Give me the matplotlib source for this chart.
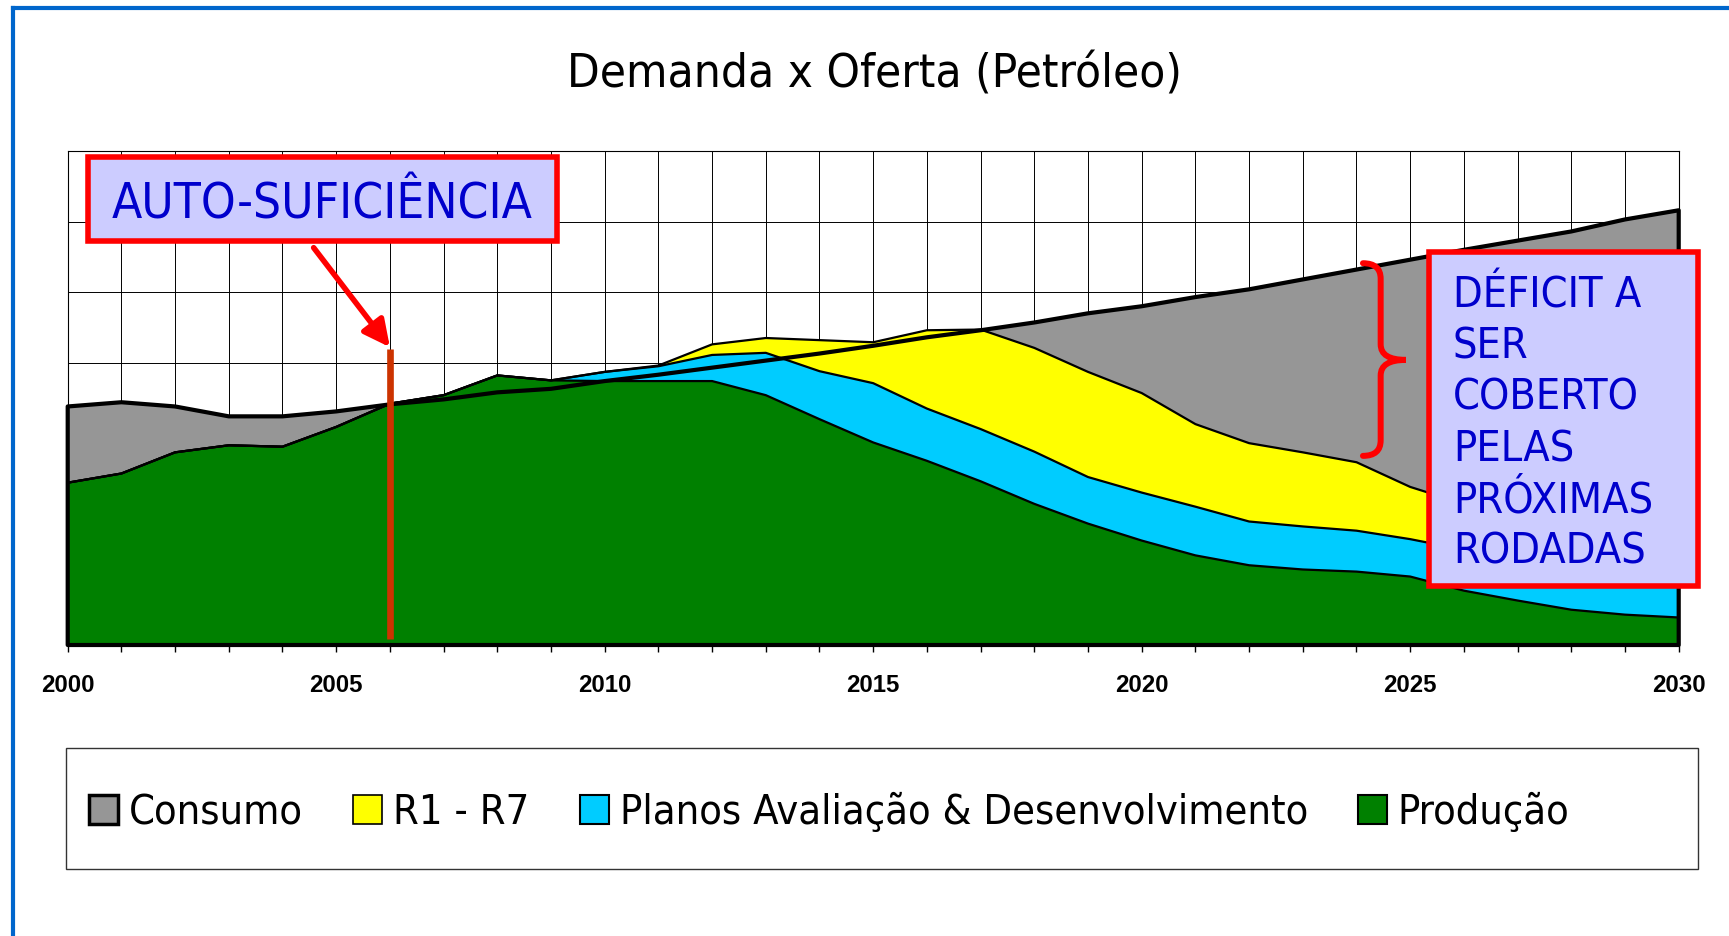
import numpy as np
import matplotlib
matplotlib.use("Agg")
import matplotlib.pyplot as plt
from matplotlib import font_manager
from matplotlib.patches import Patch, Rectangle, PathPatch
from matplotlib.path import Path
from matplotlib.lines import Line2D

# valores (unidades da grade, 0..7)
years = np.arange(2000, 2031)
consumo = [3.38, 3.44, 3.38, 3.24, 3.24, 3.31, 3.41, 3.48, 3.58, 3.63, 3.74,
           3.83, 3.93, 4.03, 4.13, 4.24, 4.36, 4.46, 4.57, 4.70, 4.80,
           4.93, 5.04, 5.18, 5.32, 5.46, 5.60, 5.73, 5.86, 6.03, 6.16]
producao = [2.30, 2.43, 2.73, 2.83, 2.81, 3.09, 3.42, 3.54, 3.82, 3.75, 3.74,
            3.74, 3.74, 3.54, 3.20, 2.87, 2.61, 2.32, 2.00, 1.72, 1.48,
            1.27, 1.13, 1.07, 1.04, 0.97, 0.77, 0.63, 0.50, 0.43, 0.39]
# topo acumulado producao + planos
planos_topo = [2.30, 2.43, 2.73, 2.83, 2.81, 3.09, 3.42, 3.54, 3.82, 3.75, 3.87,
               3.95, 4.11, 4.14, 3.88, 3.71, 3.35, 3.06, 2.74, 2.38, 2.16,
               1.96, 1.75, 1.68, 1.62, 1.50, 1.35, 1.22, 1.10, 1.00, 0.92]
# topo acumulado producao + planos + R1-R7
rodadas_topo = [2.30, 2.43, 2.73, 2.83, 2.81, 3.09, 3.42, 3.54, 3.82, 3.75, 3.87,
                3.96, 4.26, 4.35, 4.32, 4.29, 4.46, 4.47, 4.21, 3.87, 3.57,
                3.13, 2.86, 2.73, 2.59, 2.24, 2.00, 1.80, 1.60, 1.40, 1.20]

labels = ["Consumo", "R1 - R7", "Planos Avaliação & Desenvolvimento", "Produção"]
colors = ["#969696", "#ffff00", "#00ccff", "#008000"]
deficit_lines = ["DÉFICIT A", "SER", "COBERTO", "PELAS", "PRÓXIMAS", "RODADAS"]


def pick_family():
    for name in ["DejaVu Sans Condensed", "Liberation Sans Narrow", "Arial Narrow"]:
        try:
            font_manager.findfont(font_manager.FontProperties(family=name),
                                  fallback_to_default=False)
            return name
        except ValueError:
            pass
    return "DejaVu Sans"


W, H = 1729, 936
fig = plt.figure(figsize=(W / 100, H / 100), dpi=100)
fam = pick_family()
font = dict(family=[fam, "DejaVu Sans"], stretch="condensed")
renderer = fig.canvas.get_renderer()


def fit_size(s, width, **kw):
    t = fig.text(0, 0, s, fontsize=20, **kw)
    w = t.get_window_extent(renderer).width
    t.remove()
    return 20 * width / w


ax = fig.add_axes([67.7 / W, 1 - 645 / H, 1611 / W, 494 / H])

# areas
ax.fill_between(years, 0, consumo, facecolor=colors[0], lw=0, zorder=1)
ax.fill_between(years, 0, producao, facecolor=colors[3], lw=0, zorder=2)
ax.fill_between(years, producao, planos_topo, facecolor=colors[2], lw=0, zorder=2)
ax.fill_between(years, planos_topo, rodadas_topo, facecolor=colors[1], lw=0, zorder=2)
for top in (rodadas_topo, planos_topo, producao):
    ax.plot(years, top, color="black", lw=1.6, zorder=3)
ax.fill_between(years, 0, consumo, facecolor="none", edgecolor="black",
                lw=3.0, zorder=4, clip_on=False)

ax.set_xlim(2000, 2030)
ax.set_ylim(0, 7)
ax.set_xticks(years)
ax.set_xticklabels([str(y) if y % 5 == 0 else "" for y in years])
ax.set_yticks(range(8))
ax.set_yticklabels([])
ax.grid(True, color="black", lw=0.7, zorder=0)
ax.set_axisbelow(True)
ax.tick_params(axis="y", length=0)
fs_tick = fit_size("2000", 53.5, family="Liberation Sans", weight="bold")
ax.tick_params(axis="x", direction="out", length=4.8, width=1, pad=16,
               labelsize=fs_tick)
for lab in ax.get_xticklabels():
    lab.set_fontfamily("Liberation Sans")
    lab.set_fontweight("bold")
for sp in ax.spines.values():
    sp.set_linewidth(0.8)

# auto-suficiencia
ax.plot([2006, 2006], [0.08, 4.20], color="#cc3300", lw=4.8, zorder=5,
        solid_capstyle="butt")
ax.annotate("", xy=(2006.0, 4.22), xytext=(2004.58, 5.63),
            arrowprops=dict(arrowstyle="-|>", color="red", lw=4,
                            mutation_scale=40, shrinkA=0, shrinkB=0),
            zorder=6)
ax.add_patch(Rectangle((0.0124, 0.8172), 0.3039 - 0.0124, 0.9885 - 0.8172,
                       transform=ax.transAxes, facecolor="#ccccff",
                       edgecolor="red", lw=4, zorder=7, clip_on=False))
fs_auto = fit_size("AUTO-SUFICIÊNCIA", 421, **font)
ax.text(0.158, 0.8638, "AUTO-SUFICIÊNCIA", transform=ax.transAxes,
        ha="center", va="baseline", color="#0000cc", fontsize=fs_auto,
        zorder=8, **font)

# chave do deficit
x0, x1, x2 = 2024.12, 2024.45, 2024.92
yt, ym, yb, d = 5.41, 4.04, 2.68, 0.22
verts = [(x0, yt), (x1, yt), (x1, yt - d), (x1, ym + d), (x1, ym), (x2, ym),
         (x1, ym), (x1, ym - d), (x1, yb + d), (x1, yb), (x0, yb)]
codes = [Path.MOVETO, Path.CURVE3, Path.CURVE3, Path.LINETO, Path.CURVE3,
         Path.CURVE3, Path.CURVE3, Path.CURVE3, Path.LINETO, Path.CURVE3,
         Path.CURVE3]
ax.add_patch(PathPatch(Path(verts, codes), facecolor="none", edgecolor="red",
                       lw=4.3, capstyle="round", zorder=6))

ax.add_patch(Rectangle((0.8453, 0.1188), 1.0118 - 0.8453, 0.7949 - 0.1188,
                       transform=ax.transAxes, facecolor="#ccccff",
                       edgecolor="red", lw=4, zorder=7, clip_on=False))
fs_def = fit_size("PRÓXIMAS", 200.5, **font)
for i, line in enumerate(deficit_lines):
    ax.text(0.8598, 0.6826 - i * 0.1034, line, transform=ax.transAxes,
            ha="left", va="baseline", color="#0000cc", fontsize=fs_def,
            zorder=8, clip_on=False, **font)

# titulo
fs_title = fit_size("Demanda x Oferta (Petróleo)", 615, **font)
fig.text(874.5 / W, 1 - 87.3 / H, "Demanda x Oferta (Petróleo)", ha="center",
         va="baseline", fontsize=fs_title, color="black", **font)

# legenda
fs_leg = fit_size(labels[2], 689, **font)
em = fs_leg * 100 / 72
handles = [Patch(facecolor=c, edgecolor="black", lw=lw)
           for c, lw in zip(colors, [2.5, 1.2, 1.5, 1.5])]
fig.legend(handles, labels, loc="center left",
           bbox_to_anchor=(89.3 / W, 1 - 813 / H), ncol=4, frameon=False,
           borderpad=0, borderaxespad=0, handlelength=29 / em,
           handleheight=29 / em, handletextpad=11 / em, columnspacing=50 / em,
           prop=font_manager.FontProperties(size=fs_leg, **font))
fig.add_artist(Rectangle((66.2 / W, 67 / H), 1631.8 / W, 121.4 / H,
                         transform=fig.transFigure, fill=False,
                         edgecolor="#333333", lw=1))

# moldura azul
fig.add_artist(Line2D([13.4 / W, 13.4 / W], [0, 1 - 8 / H], color="#0066cc",
                      lw=3, transform=fig.transFigure))
fig.add_artist(Line2D([13.4 / W, 1], [1 - 8 / H, 1 - 8 / H], color="#0066cc",
                      lw=3, transform=fig.transFigure))

fig.savefig("out.png", dpi=100)
